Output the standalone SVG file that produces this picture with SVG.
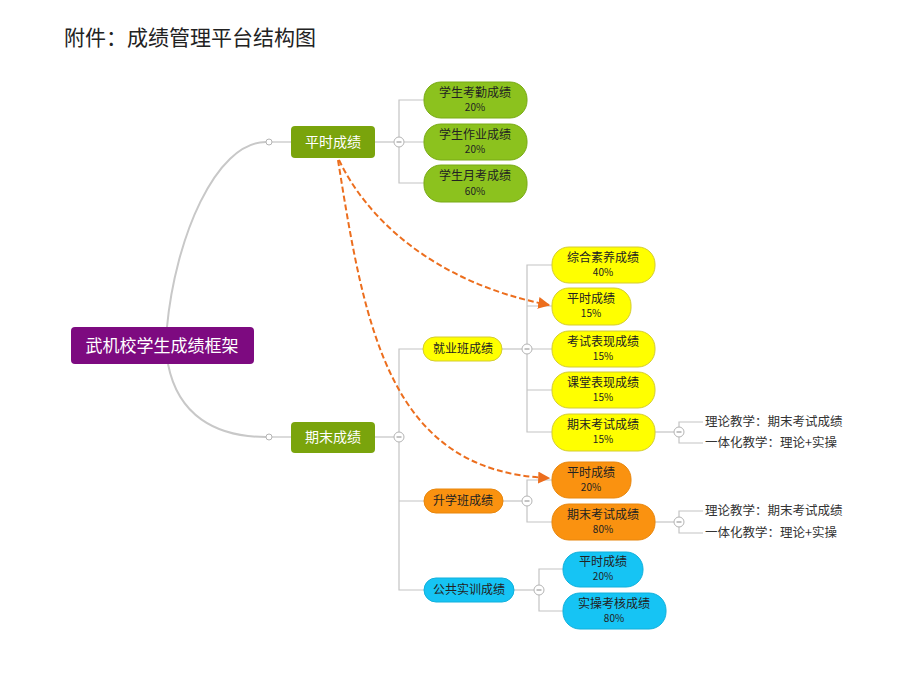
<svg xmlns="http://www.w3.org/2000/svg" width="902" height="689" viewBox="0 0 902 689">
<defs>
<style>
text{font-family:"Noto Sans CJK SC","Noto Sans",sans-serif;text-anchor:middle}
.title{font-size:21px;fill:#222;text-anchor:start}
.root{fill:#7D0A80}
.rootT{fill:#fff;font-size:17px}
.br{fill:#7AA40C}
.brT{fill:#fff;font-size:14px}
.lg{fill:#8CC21E;stroke:#78AA14;stroke-width:1}
.ye{fill:#FFFF00;stroke:#D4CC30;stroke-width:1}
.or{fill:#FA9210;stroke:#E8860C;stroke-width:1}
.cy{fill:#16C4F4;stroke:#10B0DC;stroke-width:1}
.t1{font-size:12px;fill:#222}
.t2{font-size:10px;fill:#222}
.t3{font-size:12.5px;fill:#333;text-anchor:start}
.ln{fill:none;stroke:#c4c4c4;stroke-width:1.2}
.curve{fill:none;stroke:#c8c8c8;stroke-width:2}
.dash{fill:none;stroke:#EC6E1E;stroke-width:2;stroke-dasharray:6,3}
.tog{fill:#fff;stroke:#b4b4b4;stroke-width:1}
.togm{stroke:#888;stroke-width:1}
</style>
<marker id="arr" viewBox="0 0 10 10" refX="9" refY="5" markerWidth="6" markerHeight="6" orient="auto" markerUnits="strokeWidth">
<path d="M0,0 L10,5 L0,10 z" fill="#EC6E1E"/>
</marker>
<g id="toggle"><circle r="5" class="tog"/><line x1="-2.5" y1="0" x2="2.5" y2="0" class="togm"/></g>
</defs>
<rect width="902" height="689" fill="#fff"/>
<text class="title" x="64" y="45">附件：成绩管理平台结构图</text>

<g id="connectors">
<path class="curve" d="M167,327 C175,240 215,142 266,142"/>
<path class="curve" d="M168,364 C178,415 215,437 266,437"/>
<line class="ln" x1="272" y1="142" x2="291" y2="142"/>
<line class="ln" x1="272" y1="437" x2="291" y2="437"/>
<circle cx="269" cy="142" r="3" class="tog"/>
<circle cx="269" cy="437" r="3" class="tog"/>
<line class="ln" x1="375" y1="142" x2="399" y2="142"/>
<path class="ln" d="M424,100 H399 V183 H424 M399,142 H424"/>
<line class="ln" x1="375" y1="437" x2="399" y2="437"/>
<path class="ln" d="M424,349 H399 V590 H424 M399,501 H424"/>
<line class="ln" x1="502" y1="349" x2="527" y2="349"/>
<path class="ln" d="M552,265 H527 V432 H552 M527,306 H552 M527,349 H552 M527,390 H552"/>
<line class="ln" x1="503" y1="501" x2="527" y2="501"/>
<path class="ln" d="M552,480 H527 V522 H552"/>
<line class="ln" x1="514" y1="590" x2="539" y2="590"/>
<path class="ln" d="M563,569 H539 V611 H563"/>
<line class="ln" x1="655" y1="432" x2="679" y2="432"/>
<path class="ln" d="M703,422 H679 V443 H703"/>
<line class="ln" x1="655" y1="522" x2="679" y2="522"/>
<path class="ln" d="M703,511 H679 V533 H703"/>
<use href="#toggle" x="399" y="142"/>
<use href="#toggle" x="399" y="437"/>
<use href="#toggle" x="527" y="349"/>
<use href="#toggle" x="527" y="501"/>
<use href="#toggle" x="539" y="590"/>
<use href="#toggle" x="679" y="432"/>
<use href="#toggle" x="679" y="522"/>
<path class="dash" d="M339,160 C365,215 430,282 549,305" marker-end="url(#arr)"/>
<path class="dash" d="M338,160 C365,330 390,472 549,478" marker-end="url(#arr)"/>
</g>

<g id="root"><rect x="71" y="327" width="183" height="37" rx="4" class="root"/><text x="162" y="352" class="rootT">武机校学生成绩框架</text></g>

<g id="pingshi"><rect x="291" y="126" width="84" height="32" rx="4" class="br"/><text x="333" y="147" class="brT">平时成绩</text></g>
<g id="qimo"><rect x="291" y="422" width="84" height="31" rx="4" class="br"/><text x="333" y="442" class="brT">期末成绩</text></g>

<g id="kaoqin"><rect x="424" y="82" width="103" height="36" rx="17" class="lg"/><text x="475" y="97" class="t1">学生考勤成绩</text><text x="475" y="111" class="t2">20%</text></g>
<g id="zuoye"><rect x="424" y="124" width="103" height="36" rx="17" class="lg"/><text x="475" y="139" class="t1">学生作业成绩</text><text x="475" y="153" class="t2">20%</text></g>
<g id="yuekao"><rect x="424" y="165" width="103" height="37" rx="17" class="lg"/><text x="475" y="180" class="t1">学生月考成绩</text><text x="475" y="195" class="t2">60%</text></g>

<g id="jiuye"><rect x="423" y="337" width="79" height="24" rx="12" class="ye"/><text x="463" y="353" class="t1">就业班成绩</text></g>
<g id="zonghe"><rect x="552" y="247" width="103" height="36" rx="17" class="ye"/><text x="603" y="262" class="t1">综合素养成绩</text><text x="603" y="276" class="t2">40%</text></g>
<g id="pingshi15"><rect x="552" y="288" width="79" height="37" rx="17" class="ye"/><text x="591" y="303" class="t1">平时成绩</text><text x="591" y="317" class="t2">15%</text></g>
<g id="kaoshi"><rect x="552" y="331" width="103" height="36" rx="17" class="ye"/><text x="603" y="346" class="t1">考试表现成绩</text><text x="603" y="360" class="t2">15%</text></g>
<g id="ketang"><rect x="552" y="372" width="103" height="36" rx="17" class="ye"/><text x="603" y="387" class="t1">课堂表现成绩</text><text x="603" y="401" class="t2">15%</text></g>
<g id="qimo15"><rect x="552" y="414" width="103" height="37" rx="17" class="ye"/><text x="603" y="429" class="t1">期末考试成绩</text><text x="603" y="443" class="t2">15%</text></g>

<g id="shengxue"><rect x="424" y="489" width="79" height="24" rx="12" class="or"/><text x="463" y="505" class="t1">升学班成绩</text></g>
<g id="pingshi20"><rect x="552" y="462" width="79" height="36" rx="17" class="or"/><text x="591" y="477" class="t1">平时成绩</text><text x="591" y="491" class="t2">20%</text></g>
<g id="qimo80"><rect x="552" y="504" width="103" height="36" rx="17" class="or"/><text x="603" y="519" class="t1">期末考试成绩</text><text x="603" y="533" class="t2">80%</text></g>

<g id="gonggong"><rect x="424" y="578" width="90" height="24" rx="12" class="cy"/><text x="469" y="594" class="t1">公共实训成绩</text></g>
<g id="pingshi20b"><rect x="563" y="552" width="80" height="35" rx="17" class="cy"/><text x="603" y="566" class="t1">平时成绩</text><text x="603" y="580" class="t2">20%</text></g>
<g id="shicao"><rect x="563" y="593" width="103" height="36" rx="17" class="cy"/><text x="614" y="608" class="t1">实操考核成绩</text><text x="614" y="622" class="t2">80%</text></g>

<g id="leaf1"><text x="705" y="426" class="t3">理论教学：期末考试成绩</text></g>
<g id="leaf2"><text x="705" y="447" class="t3">一体化教学：理论+实操</text></g>
<g id="leaf3"><text x="705" y="515" class="t3">理论教学：期末考试成绩</text></g>
<g id="leaf4"><text x="705" y="537" class="t3">一体化教学：理论+实操</text></g>
</svg>
